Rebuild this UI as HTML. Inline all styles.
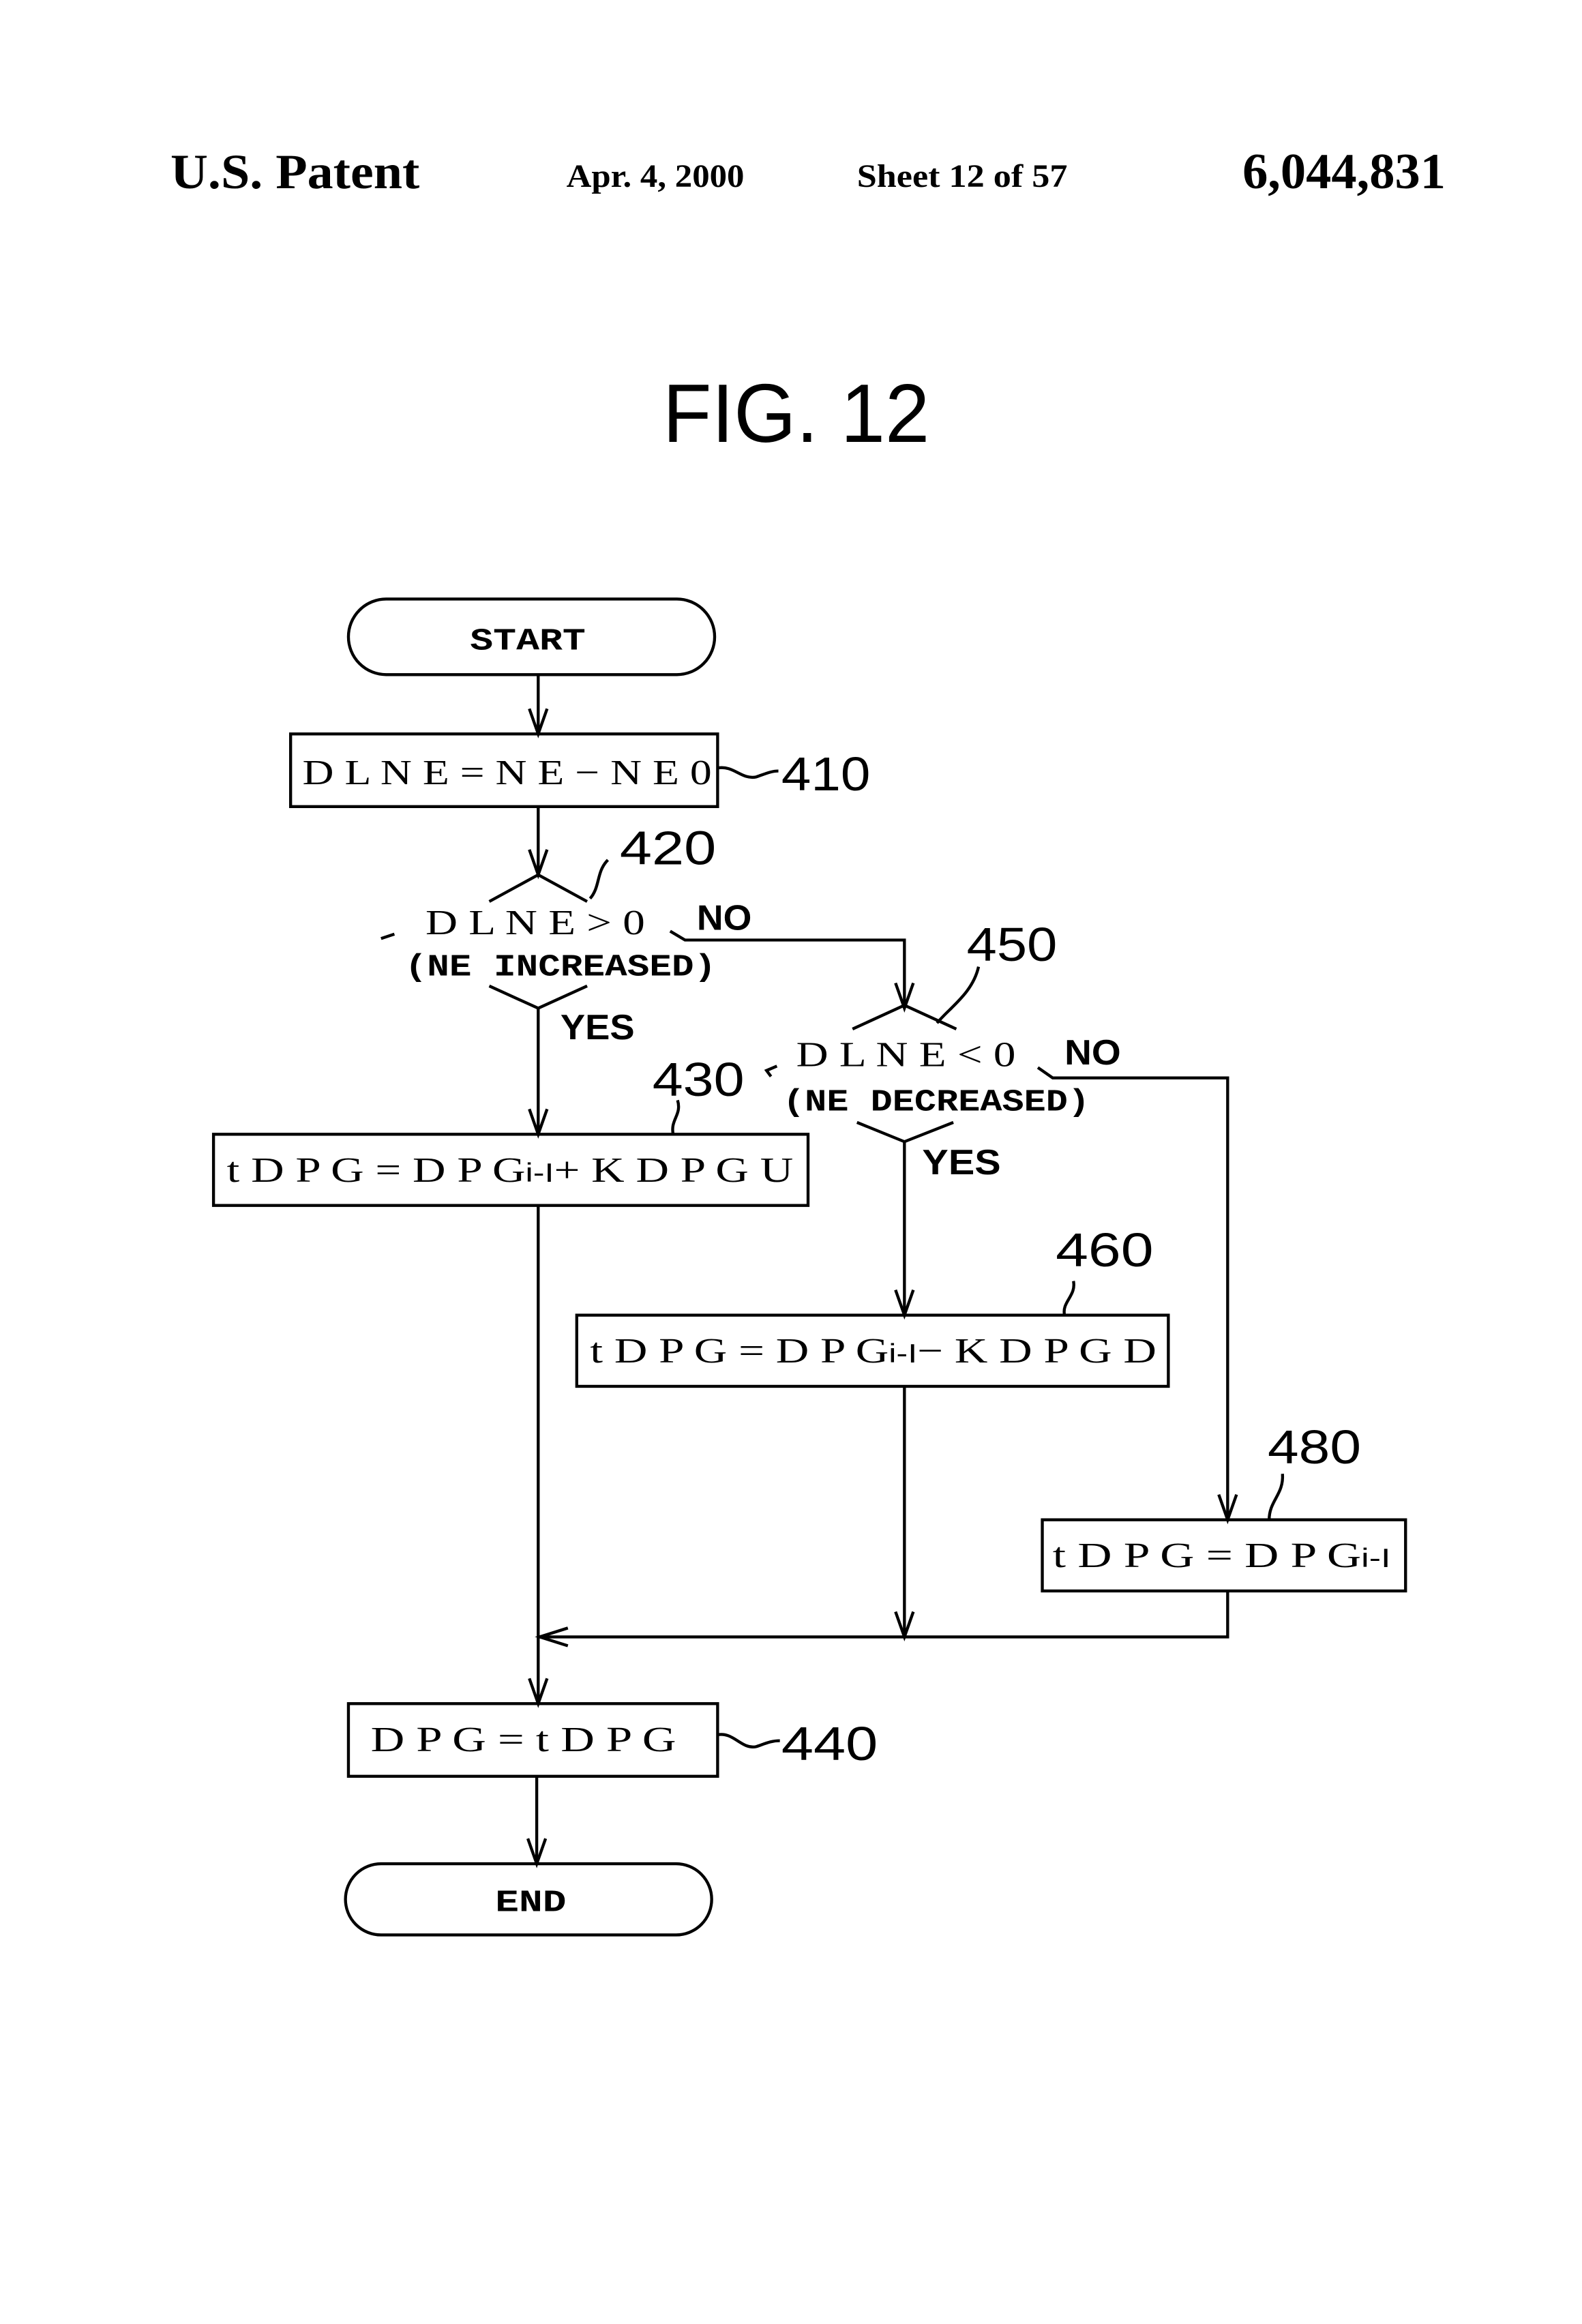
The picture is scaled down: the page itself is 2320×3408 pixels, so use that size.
<!DOCTYPE html>
<html><head><meta charset="utf-8"><style>
html,body{margin:0;padding:0;background:#fff;}
svg{display:block;}
</style></head><body>
<svg width="2320" height="3408" viewBox="0 0 1067 1567.4" xmlns="http://www.w3.org/2000/svg">
<rect width="1067" height="1567.4" fill="#fff"/>
<g font-family="Liberation Serif, serif" font-weight="bold" fill="#000">
<text x="115" y="127" font-size="33" textLength="168" lengthAdjust="spacingAndGlyphs">U.S. Patent</text>
<text x="382" y="126" font-size="22" textLength="120" lengthAdjust="spacingAndGlyphs">Apr. 4, 2000</text>
<text x="578" y="126" font-size="22" textLength="142" lengthAdjust="spacingAndGlyphs">Sheet 12 of 57</text>
<text x="838" y="127" font-size="34" textLength="137" lengthAdjust="spacingAndGlyphs">6,044,831</text>
</g>
<text x="447" y="298" font-family="Liberation Sans, sans-serif" font-size="56" textLength="180" lengthAdjust="spacingAndGlyphs">FIG. 12</text>

<g fill="none" stroke="#000" stroke-width="2">
<rect x="235" y="404" width="247" height="51" rx="25.5"/>
<line x1="363" y1="455" x2="363" y2="495"/>
<path d="M357 478 L363 495 L369 478"/>
<rect x="196" y="495" width="288" height="49"/>
<path d="M484 518 C495 516 500 526 510 524 C516 522 520 520 525 520"/>
<line x1="363" y1="544" x2="363" y2="590"/>
<path d="M357 573 L363 590 L369 573"/>
<path d="M330 608 L363 590 L396 608"/>
<path d="M330 665 L363 680 L396 665"/>
<path d="M398 606 C405 598 402 588 410 580"/>
<path d="M257 633 L266 630"/>
<path d="M452 628 L462 634 L610 634 L610 680"/>
<path d="M604 663 L610 680 L616 663"/>
<line x1="363" y1="680" x2="363" y2="765"/>
<path d="M357 748 L363 765 L369 748"/>
<rect x="144" y="765" width="401" height="48"/>
<path d="M454 765 C452 755 460 752 457 742"/>
<path d="M524 719 L517 722 L520 726"/>
<path d="M575 694 L610 678 L645 694"/>
<path d="M578 757 L610 770 L643 757"/>
<path d="M632 690 C640 680 656 670 660 652"/>
<path d="M700 720 L710 727 L828 727 L828 1025"/>
<path d="M822 1008 L828 1025 L834 1008"/>
<line x1="610" y1="770" x2="610" y2="887"/>
<path d="M604 870 L610 887 L616 870"/>
<rect x="389" y="887" width="399" height="48"/>
<path d="M718 887 C716 878 726 874 724 864"/>
<line x1="610" y1="935" x2="610" y2="1104"/>
<path d="M604 1087 L610 1104 L616 1087"/>
<rect x="703" y="1025" width="245" height="48"/>
<path d="M856 1025 C856 1012 866 1008 865 994"/>
<path d="M828 1073 L828 1104 L363 1104"/>
<path d="M383 1098 L364 1104 L383 1110"/>
<line x1="363" y1="813" x2="363" y2="1149"/>
<path d="M357 1132 L363 1149 L369 1132"/>
<rect x="235" y="1149" width="249" height="49"/>
<path d="M484 1170 C495 1168 500 1180 510 1178 C516 1176 520 1174 526 1174"/>
<line x1="362" y1="1198" x2="362" y2="1257"/>
<path d="M356 1240 L362 1257 L368 1240"/>
<rect x="233" y="1257" width="247" height="48" rx="24"/>
</g>

<g font-family="Liberation Mono, monospace" font-weight="bold" font-size="21" fill="#000">
<text x="317" y="438" textLength="78" lengthAdjust="spacingAndGlyphs">START</text>
<text x="334" y="1289" textLength="48" lengthAdjust="spacingAndGlyphs">END</text>
<text x="273" y="658" textLength="210" lengthAdjust="spacingAndGlyphs">(NE INCREASED)</text>
<text x="528" y="749" textLength="207" lengthAdjust="spacingAndGlyphs">(NE DECREASED)</text>
</g>

<g font-family="Liberation Serif, serif" font-size="24" fill="#000">
<text x="204" y="529" textLength="276" lengthAdjust="spacingAndGlyphs">D L N E = N E − N E 0</text>
<text x="287" y="630" textLength="148" lengthAdjust="spacingAndGlyphs">D L N E &gt; 0</text>
<text x="537" y="719" textLength="148" lengthAdjust="spacingAndGlyphs">D L N E &lt; 0</text>
<text x="153" y="797" textLength="382" lengthAdjust="spacingAndGlyphs">t D P G = D P G<tspan font-family="Liberation Sans, sans-serif" font-size="18">i-I</tspan>+ K D P G U</text>
<text x="398" y="919" textLength="382" lengthAdjust="spacingAndGlyphs">t D P G = D P G<tspan font-family="Liberation Sans, sans-serif" font-size="18">i-I</tspan>− K D P G D</text>
<text x="710" y="1057" textLength="228" lengthAdjust="spacingAndGlyphs">t D P G = D P G<tspan font-family="Liberation Sans, sans-serif" font-size="18">i-I</tspan></text>
<text x="250" y="1181" textLength="206" lengthAdjust="spacingAndGlyphs">D P G = t D P G</text>
</g>

<g font-family="Liberation Sans, sans-serif" font-size="32" fill="#000">
<text x="527" y="533" textLength="60" lengthAdjust="spacingAndGlyphs">410</text>
<text x="418" y="583" textLength="65" lengthAdjust="spacingAndGlyphs">420</text>
<text x="652" y="648" textLength="61" lengthAdjust="spacingAndGlyphs">450</text>
<text x="440" y="739" textLength="62" lengthAdjust="spacingAndGlyphs">430</text>
<text x="712" y="854" textLength="66" lengthAdjust="spacingAndGlyphs">460</text>
<text x="855" y="987" textLength="63" lengthAdjust="spacingAndGlyphs">480</text>
<text x="527" y="1187" textLength="65" lengthAdjust="spacingAndGlyphs">440</text>
</g>
<g font-family="Liberation Sans, sans-serif" font-weight="bold" font-size="24" fill="#000">
<text x="470" y="627" textLength="37" lengthAdjust="spacingAndGlyphs">NO</text>
<text x="378" y="701" textLength="50" lengthAdjust="spacingAndGlyphs">YES</text>
<text x="718" y="718" textLength="38" lengthAdjust="spacingAndGlyphs">NO</text>
<text x="622" y="792" textLength="53" lengthAdjust="spacingAndGlyphs">YES</text>
</g>
</svg>
</body></html>
